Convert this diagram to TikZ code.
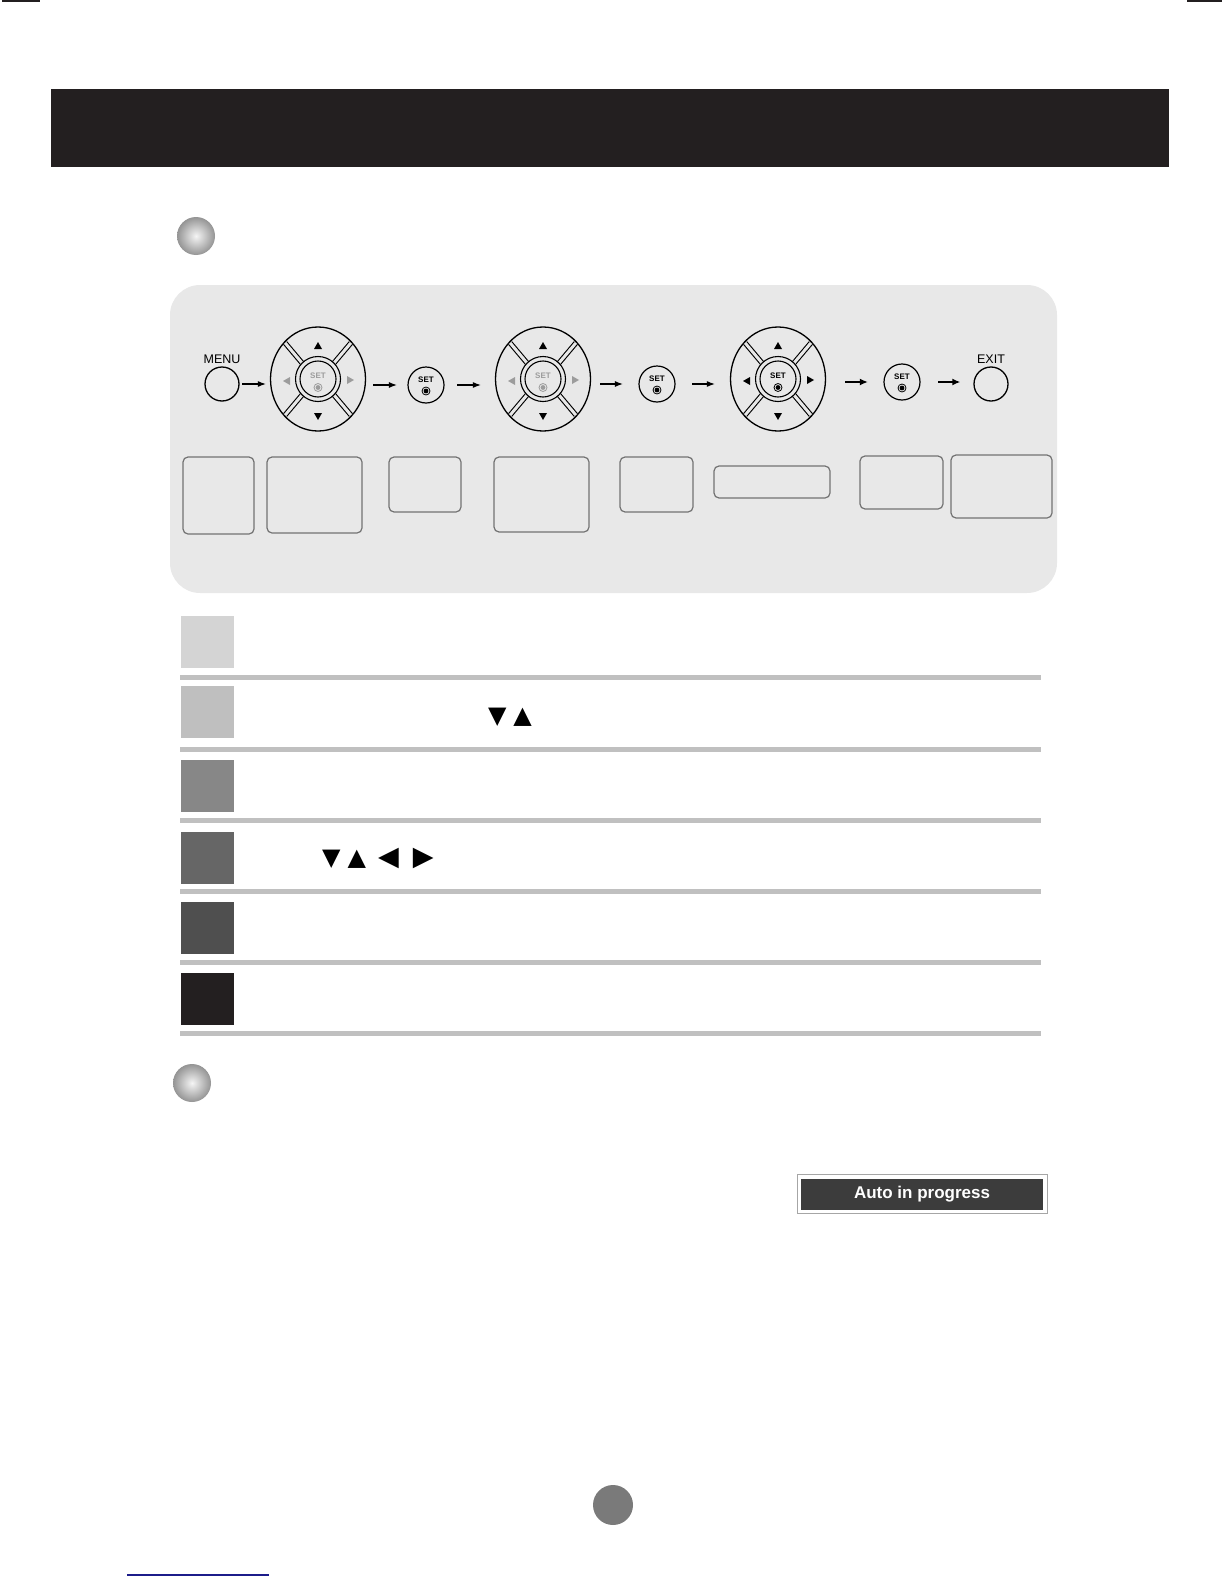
\documentclass[tikz,border=0pt]{standalone}
\usepackage{fontspec}
\setmainfont{Liberation Sans}
\newfontfamily\glyphfont{DejaVu Sans}
\usetikzlibrary{arrows.meta,positioning,calc,shapes.geometric}
\definecolor{inkblack}{HTML}{231F20}
\definecolor{panelgray}{HTML}{E8E8E8}
\definecolor{rulegray}{HTML}{C0C0C0}
\definecolor{slotline}{HTML}{727272}
\definecolor{dimkey}{HTML}{9C9C9C}
\definecolor{progdark}{HTML}{3C3C3C}
\definecolor{linkblue}{HTML}{1C1C8A}
\tikzset{
  keyround/.style={draw, circle, line width=1.3pt, minimum size=34pt, inner sep=0pt},
  setround/.style={draw, circle, line width=1.2pt, minimum size=36pt, inner sep=0pt},
  padring/.style={draw, ellipse, line width=1.3pt, minimum width=95pt, minimum height=104pt, inner sep=0pt},
  keytext/.style={font=\fontsize{12.5}{14}\selectfont, inner sep=1pt},
  settext/.style={font=\fontsize{8}{9}\selectfont\bfseries, inner sep=0pt},
  navarrow/.style={-{Latex[length=8pt,width=6pt]}, line width=1.1pt},
  navthick/.style={-{Latex[length=8pt,width=7pt]}, line width=1.9pt},
  slot/.style={draw=slotline, rounded corners=5pt, line width=1.2pt, inner sep=0pt},
  stepsq/.style={minimum width=53pt, minimum height=52pt, inner sep=0pt},
  bullet/.style={circle, minimum size=38pt, inner sep=0pt, inner color=black!4, outer color=black!42},
  glyphs/.style={font=\glyphfont\fontsize{24}{26}\selectfont, inner sep=0pt},
  pics/setkey/.style={code={
    \node[setround] (-key) at (0,0) {};
    \node[settext] (-set) at (0,-5) {SET};
    \draw[line width=0.8pt] (0,6) circle (4pt);
    \fill (0,6) circle (2.4pt);
  }},
  pics/dpad/.style={code={
    \node[padring] (-ring) at (0,0) {};
    \foreach \a in {45,135,225,315}
      \draw[line width=1.1pt, double=panelgray, double distance=3pt]
        ({22.5*cos(\a)},{22.5*sin(\a)}) -- ({46.5*cos(\a)},{51*sin(\a)});
    \draw[line width=1.1pt] (0,0) circle (22.5pt) (0,0) circle (18pt);
    \fill (-4,-30) -- (4,-30) -- (0,-37) -- cycle;
    \fill (-4,34) -- (4,34) -- (0,41) -- cycle;
    \fill[#1] (-28,-2) -- (-28,6) -- (-35,2) -- cycle;
    \fill[#1] (29,-3) -- (29,5) -- (36,1) -- cycle;
    \node[settext, text=#1] (-set) at (0,-3) {SET};
    \draw[#1, line width=0.8pt] (0,8.5) circle (4pt);
    \fill[#1] (0,8.5) circle (2.4pt);
  }},
}

\begin{document}
\begin{tikzpicture}[x=1pt, y=-1pt]
  \useasboundingbox (0,0) rectangle (1224,1584);

  % page marks and title bar
  \fill[inkblack] (2,0) rectangle (40,2);
  \fill[inkblack] (1187,0) rectangle (1222,2);
  \node[fill=inkblack, minimum width=1118pt, minimum height=78pt, inner sep=0pt] (titlebar) at (610,128) {};
  \node[bullet] (bulletA) at (196,236) {};

  % key sequence panel
  \fill[panelgray, rounded corners=30pt] (170,285) rectangle (1057,593);

  \node[keyround] (menu) at (222,384) {};
  \node[keytext, above=2pt of menu] (menutext) {MENU};
  \pic (padA) at (318,379) {dpad=dimkey};
  \pic (setA) at (426,385) {setkey};
  \pic (padB) at (543,379) {dpad=dimkey};
  \pic (setB) at (657,384) {setkey};
  \pic (padC) at (778,379) {dpad=black};
  \pic (setC) at (902,382) {setkey};
  \node[keyround] (exit) at (991,384) {};
  \node[keytext, above=2pt of exit] (exittext) {EXIT};

  \draw[navarrow, shorten <=2.5pt, shorten >=4pt] (menu) -- (menu -| padA-ring.west);
  \draw[navarrow, shorten <=7pt, shorten >=10.5pt] (setA-key -| padA-ring.east) -- (setA-key);
  \draw[navarrow, shorten <=12.5pt, shorten >=14pt] (setA-key) -- (setA-key -| padB-ring.west);
  \draw[navarrow, shorten <=9pt, shorten >=15.5pt] (setB-key -| padB-ring.east) -- (setB-key);
  \draw[navarrow, shorten <=16.5pt, shorten >=15pt] (setB-key) -- (setB-key -| padC-ring.west);
  \draw[navthick, shorten <=19pt, shorten >=15.5pt] (setC-key -| padC-ring.east) -- (setC-key);
  \draw[navthick, shorten <=17.5pt, shorten >=13pt] (setC-key) -- (setC-key -| exit.west);

  \foreach \n/\cx/\cy/\w/\h in {A/218.5/495.5/71/77, B/314.5/495/95/76, C/425/484.5/72/55,
      D/541.5/494.5/95/75, E/656.5/484.5/73/55, F/772/482/116/32,
      G/901.5/482.5/83/53, H/1001.5/486.5/101/63}
    \node[slot, minimum width=\w pt, minimum height=\h pt] (slot\n) at (\cx,\cy) {};

  % step rows
  \foreach \cy/\shade [count=\i] in {642/black!17, 711.5/black!25, 786/black!47,
      858/black!60, 927.5/black!69, 998.5/inkblack}
    \node[stepsq, fill=\shade] (step\i) at (207.5,\cy) {};
  \foreach \by in {675,747,818,889,960,1031}
    \fill[rulegray] (180,\by) rectangle (1041,\by+5);
  \node[glyphs] (updownA) at (510,717) {▼\hspace{7pt}▲};
  \node[glyphs, anchor=west] (arrowsB) at (322,858)
    {▼\hspace{7pt}▲\hspace{12pt}{\fontsize{27}{28}\selectfont◀\hspace{14pt}▶}};

  % auto adjustment
  \node[bullet] (bulletB) at (192,1083) {};
  \node[draw=black!35, line width=1pt, fill=white, minimum width=250pt, minimum height=39pt] (progframe) at (922,1193.5) {};
  \node[fill=progdark, text=white, minimum width=242pt, minimum height=31pt, inner sep=0pt,
    font=\fontsize{17}{20}\selectfont\bfseries] (progress) at (922,1194.5) {Auto in progress};

  % page number and footer link
  \node[circle, fill=black!52, minimum size=40pt, inner sep=0pt] (pagedot) at (613,1505) {};
  \draw[linkblue, line width=1.3pt] (127,1575) -- (269,1575);
\end{tikzpicture}
\end{document}
